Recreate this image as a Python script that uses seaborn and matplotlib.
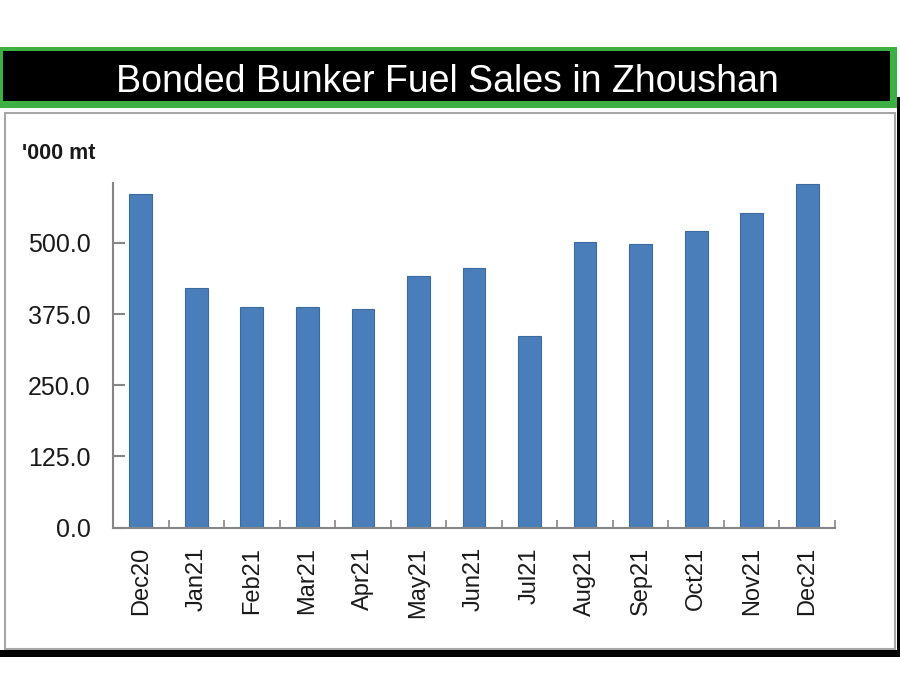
import matplotlib
matplotlib.use("Agg")

import matplotlib.pyplot as plt
import numpy as np
import seaborn as sns
from matplotlib.patches import Rectangle

MONTHS = ["Dec20", "Jan21", "Feb21", "Mar21", "Apr21", "May21", "Jun21",
          "Jul21", "Aug21", "Sep21", "Oct21", "Nov21", "Dec21"]
SALES = [585, 420, 388, 388, 383, 442, 456, 337, 502, 498, 520, 553, 603]
YTICKS = [0, 125, 250, 375, 500]
YMAX = 605

BAR = "#4A7EBB"
AXIS = "#868686"

sns.set_style("white")
plt.rcParams["font.family"] = ["Liberation Sans", "DejaVu Sans"]

W, H = 900, 700
fig = plt.figure(figsize=(9, 7), dpi=100)


def box(x0, y0, x1, y1, **kw):
    # pixel box (top-left origin) -> figure rectangle
    r = Rectangle((x0 / W, 1 - y1 / H), (x1 - x0) / W, (y1 - y0) / H,
                  transform=fig.transFigure, **kw)
    fig.add_artist(r)
    return r


# ── panel frame + title band ─────────────────────────────────────────────────
box(5, 113, 895, 649, facecolor="white", edgecolor="#a6a6a6", lw=1.5, zorder=0)
box(0, 650, 900, 657, facecolor="black", edgecolor="none", zorder=1)
box(897, 97, 900, 657, facecolor="black", edgecolor="none", zorder=1)
box(0, 47, 897, 108, facecolor="#3cb043", edgecolor="none", zorder=1)
box(3, 51, 890, 101, facecolor="black", edgecolor="none", zorder=2)

fig.text(447 / W, 1 - 92 / H, "Bonded Bunker Fuel Sales in Zhoushan",
         color="white", fontsize=27, ha="center", va="baseline", zorder=3)
fig.text(22 / W, 1 - 159 / H, "'000 mt", color="#1a1a1a", fontsize=15.5,
         fontweight="bold", ha="left", va="baseline", zorder=3)

# ── bars ─────────────────────────────────────────────────────────────────────
ax = fig.add_axes([113 / W, 1 - 527.7 / H, (835 - 113) / W, (527.7 - 183) / H])
ax.set_facecolor("none")
sns.barplot(x=MONTHS, y=SALES, color=BAR, saturation=1, width=0.41,
            edgecolor="#3b6aa0", linewidth=0.8, errorbar=None, ax=ax)

ax.set_xlim(-0.5, len(MONTHS) - 0.5)
ax.set_ylim(0, YMAX)
ax.set_yticks(YTICKS)
ax.set_yticklabels([f"{v:.1f}" for v in YTICKS])
ax.set_xticks(np.arange(-0.5, len(MONTHS), 1), minor=True)
ax.set_xlabel("")
ax.set_ylabel("")

sns.despine(ax=ax)
for s in ("left", "bottom"):
    ax.spines[s].set_color(AXIS)
    ax.spines[s].set_linewidth(1.5)

ax.tick_params(axis="y", direction="in", length=8.5, width=1.5, color=AXIS,
               pad=16, labelsize=18, labelcolor="#1a1a1a", left=True)
ax.tick_params(axis="x", which="major", length=0, pad=14, labelsize=17,
               labelrotation=90, labelcolor="#1a1a1a")
ax.tick_params(axis="x", which="minor", direction="in", length=5.5, width=1.2,
               color=AXIS, bottom=True)

fig.savefig("out.png", dpi=100)
